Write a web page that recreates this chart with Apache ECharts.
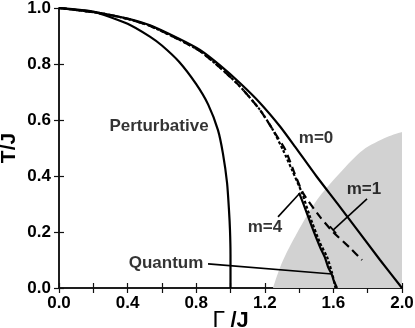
<!DOCTYPE html>
<html><head><meta charset="utf-8">
<script src="https://cdn.jsdelivr.net/npm/echarts@6/dist/echarts.min.js"></script>
<style>html,body{margin:0;padding:0;background:#fff}#c{width:415px;height:328px}</style>
</head><body><div id="c"></div>
<script>
// ---- data ----
const xTickValues = [0, 0.4, 0.8, 1.2, 1.6, 2.0];
const xTickLabels = ['0.0', '0.4', '0.8', '1.2', '1.6', '2.0'];
const yTickValues = [0, 0.2, 0.4, 0.6, 0.8, 1.0];
const yTickLabels = ['0.0', '0.2', '0.4', '0.6', '0.8', '1.0'];

const perturbGamma = [0, 0.2, 0.4, 0.53, 0.6, 0.7, 0.8, 0.87, 0.927, 0.956, 0.98, 0.991, 0.997, 1.0, 1.0];
const perturbT     = [1, 0.987, 0.944, 0.898, 0.866, 0.808, 0.728, 0.655, 0.564, 0.48, 0.375, 0.28, 0.207, 0.12, 0];

const m0Gamma = [0, 0.239, 0.4, 0.531, 0.7, 0.822, 0.939, 1.055, 1.172, 1.289, 1.376, 1.5, 1.638, 1.872, 2.0];
const m0T     = [1, 0.982, 0.962, 0.938, 0.89, 0.85, 0.795, 0.732, 0.661, 0.577, 0.505, 0.40, 0.29, 0.10, 0];

const m1Gamma = [0, 0.239, 0.4, 0.531, 0.7, 0.822, 0.939, 1.055, 1.172, 1.248, 1.32, 1.37, 1.423, 1.522, 1.598, 1.697, 1.767];
const m1T     = [1, 0.982, 0.961, 0.936, 0.887, 0.846, 0.787, 0.72, 0.636, 0.564, 0.493, 0.415, 0.339, 0.254, 0.20, 0.143, 0.10];

const m4Gamma = [0, 0.239, 0.4, 0.531, 0.7, 0.822, 0.939, 1.055, 1.172, 1.248, 1.306, 1.359, 1.417, 1.464, 1.522, 1.563, 1.592, 1.612];
const m4T     = [1, 0.982, 0.961, 0.936, 0.887, 0.846, 0.787, 0.72, 0.636, 0.564, 0.493, 0.421, 0.339, 0.254, 0.161, 0.111, 0.054, 0];

const quantumGamma = [1.40, 1.423, 1.475, 1.522, 1.55, 1.569, 1.592, 1.60, 1.621];
const quantumT     = [0.34, 0.304, 0.218, 0.146, 0.11, 0.075, 0.046, 0.03, 0];

const shadeGamma = [1.248, 1.30, 1.388, 1.504, 1.638, 1.773, 1.913, 2.0];
const shadeT     = [0, 0.09, 0.196, 0.314, 0.411, 0.493, 0.539, 0.557];

const labelTexts = ['Perturbative', 'm=0', 'm=1', 'm=4', 'Quantum'];
const labelGamma = [0.583, 1.499, 1.778, 1.201, 0.624];
const labelT     = [0.579, 0.536, 0.354, 0.217, 0.089];

const pointerQuantumGamma = [0.869, 1.592];
const pointerQuantumT     = [0.086, 0.05];
const pointerM4Gamma = [1.277, 1.405];
const pointerM4T     = [0.254, 0.339];
const pointerM1Gamma = [1.796, 1.598];
const pointerM1T     = [0.318, 0.207];
const pointerM1BarGamma = [1.580, 1.616];
const pointerM1BarT     = [0.220, 0.195];

// ---- build ----
const zip = (a, b) => a.map((v, i) => [v, b[i]]);
const FONT = 'Liberation Sans';
const black = '#000';

function lineSeries(g, t, width, type) {
  return {
    type: 'line', data: zip(g, t), symbol: 'none', smooth: 0.2,
    lineStyle: { color: black, width: width, type: type || 'solid' },
    z: 3, silent: true
  };
}
function pointer(g, t) {
  return {
    type: 'line', data: zip(g, t), symbol: 'none',
    lineStyle: { color: black, width: 1.6 }, z: 4, silent: true
  };
}
function tickFmt(vals, labs) {
  return v => {
    for (let i = 0; i < vals.length; i++) if (Math.abs(v - vals[i]) < 1e-6) return labs[i];
    return '';
  };
}

const axisCommon = {
  axisLine: { show: true, lineStyle: { color: '#111', width: 1.5 } },
  axisTick: { show: true, inside: true, length: 5, lineStyle: { color: '#111', width: 1.2 } },
  splitLine: { show: false }
};

const chart = echarts.init(document.getElementById('c'), null, { renderer: 'canvas' });
chart.setOption({
  backgroundColor: '#fff',
  animation: false,
  grid: { left: 59, right: 13, top: 8, bottom: 40, containLabel: false, outerBoundsMode: 'none' },
  xAxis: [
    Object.assign({
      type: 'value', min: 0, max: 2, interval: 0.2, position: 'bottom',
      name: '{g|Γ}{b| /J}', nameLocation: 'middle', nameGap: 22, nameMoveOverlap: false,
      nameTextStyle: { rich: {
        g: { fontFamily: 'DejaVu Sans', fontSize: 22, color: black },
        b: { fontFamily: FONT, fontWeight: 'bold', fontSize: 22, color: black }
      } },
      axisLabel: { formatter: tickFmt(xTickValues, xTickLabels), fontFamily: FONT, fontWeight: 'bold', fontSize: 17, color: black, margin: 7 }
    }, axisCommon),
    Object.assign({
      type: 'value', min: 0, max: 2, interval: 0.2, position: 'top',
      axisLabel: { show: false }
    }, axisCommon)
  ],
  yAxis: [
    Object.assign({
      type: 'value', min: 0, max: 1, interval: 0.2, position: 'left',
      name: 'T/J', nameLocation: 'middle', nameGap: 39, nameRotate: 90, nameMoveOverlap: false,
      nameTextStyle: { fontFamily: FONT, fontWeight: 'bold', fontSize: 21, color: black },
      axisLabel: { formatter: tickFmt(yTickValues, yTickLabels), fontFamily: FONT, fontWeight: 'bold', fontSize: 17, color: black, margin: 8 }
    }, axisCommon),
    Object.assign({
      type: 'value', min: 0, max: 1, interval: 0.2, position: 'right',
      axisLabel: { show: false }
    }, axisCommon)
  ],
  series: [
    {
      type: 'line', data: zip(shadeGamma, shadeT), symbol: 'none', smooth: 0.3,
      lineStyle: { width: 0 }, areaStyle: { color: '#d2d2d2', opacity: 1 }, z: 1, silent: true
    },
    lineSeries(perturbGamma, perturbT, 2.2),
    lineSeries(m0Gamma, m0T, 2.2),
    lineSeries(m1Gamma, m1T, 2.2, [8, 5]),
    lineSeries(m4Gamma, m4T, 2.2, [3, 2]),
    lineSeries(quantumGamma, quantumT, 2.2),
    pointer(pointerQuantumGamma, pointerQuantumT),
    pointer(pointerM4Gamma, pointerM4T),
    pointer(pointerM1Gamma, pointerM1T),
    pointer(pointerM1BarGamma, pointerM1BarT),
    {
      type: 'scatter', symbolSize: 0, z: 5, silent: true,
      data: labelTexts.map((s, i) => ({ value: [labelGamma[i], labelT[i]], name: s })),
      label: {
        show: true, formatter: p => p.name, position: [0, 0], align: 'center', verticalAlign: 'middle',
        fontFamily: FONT, fontWeight: 'bold', fontSize: 17, color: black
      }
    }
  ]
});
</script>
</body></html>
